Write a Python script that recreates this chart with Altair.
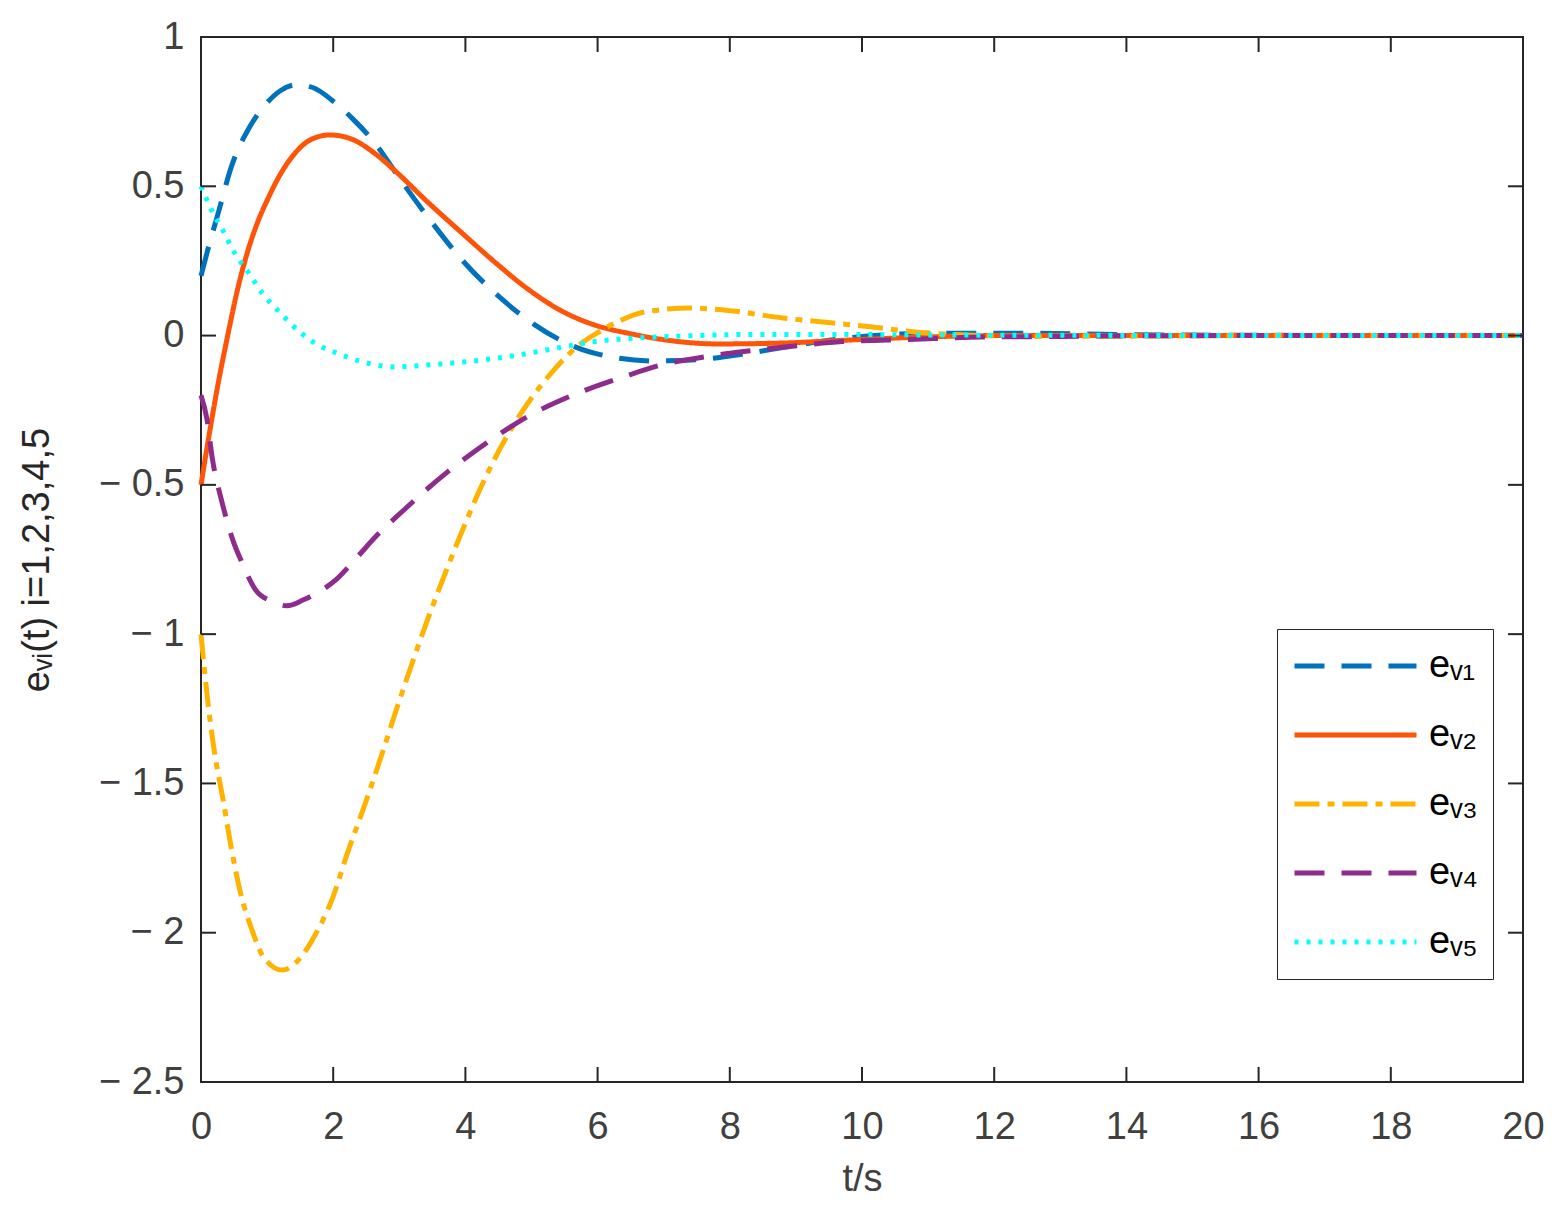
import altair as alt
import pandas as pd

# ---- data ----
names = ["eᵥ₁", "eᵥ₂", "eᵥ₃", "eᵥ₄", "eᵥ₅"]
colors = ["#0072BD", "#FF5308", "#FFB300", "#8E2C8E", "#00FFFF"]
dashes = [[30, 17], [1, 0], [25, 8, 7, 8], [30, 17], [4, 8]]

t1 = [0, 0.1, 0.26, 0.46, 0.74, 1.0, 1.2, 1.45, 1.7, 2.0, 2.3, 2.63, 3.04, 3.5, 3.95, 4.48,
      5.05, 5.66, 6.3, 6.84, 7.55, 8.26, 8.8, 9.7, 10.3, 11.2, 12.4, 14, 16, 18, 20]
v1 = [0.2, 0.285, 0.41, 0.566, 0.70, 0.78, 0.82, 0.84, 0.83, 0.785, 0.725, 0.645, 0.515, 0.377,
      0.253, 0.136, 0.036, -0.038, -0.075, -0.085, -0.08, -0.06, -0.04, -0.01, 0.002, 0.008, 0.008,
      0.003, 0.001, 0, 0]

t2 = [0, 0.11, 0.26, 0.4, 0.54, 0.69, 0.84, 1.02, 1.2, 1.4, 1.65, 1.95, 2.28, 2.63, 2.93, 3.43,
      3.95, 4.45, 4.95, 5.46, 5.96, 6.46, 7.22, 7.8, 8.8, 9.8, 10.8, 12, 14, 16, 18, 20]
v2 = [-0.5, -0.35, -0.16, -0.004, 0.142, 0.27, 0.37, 0.462, 0.54, 0.605, 0.655, 0.672, 0.658,
      0.61, 0.553, 0.447, 0.343, 0.245, 0.155, 0.082, 0.035, 0.008, -0.02, -0.028, -0.025, -0.015,
      -0.006, 0, 0, 0, 0, 0]

t3 = [0, 0.1, 0.2, 0.33, 0.47, 0.59, 0.77, 0.94, 1.23, 1.5, 1.72, 1.98, 2.22, 2.48, 2.74, 2.93,
      3.19, 3.43, 3.74, 3.95, 4.19, 4.45, 4.7, 4.95, 5.36, 5.7, 6.04, 6.34, 6.69, 7.4, 8.05, 8.8,
      9.56, 10.3, 10.8, 11.6, 12.5, 14, 16, 18, 20]
v3 = [-1.0, -1.22, -1.39, -1.55, -1.73, -1.86, -1.99, -2.08, -2.125, -2.085, -2.01, -1.89, -1.73,
      -1.57, -1.40, -1.27, -1.10, -0.95, -0.77, -0.655, -0.53, -0.41, -0.31, -0.225, -0.11, -0.035,
      0.015, 0.05, 0.078, 0.092, 0.082, 0.059, 0.042, 0.025, 0.012, 0.002, -0.003, -0.002, 0, 0, 0]

t4 = [0, 0.09, 0.17, 0.32, 0.49, 0.62, 0.82, 1.07, 1.3, 1.55, 1.77, 2.03, 2.33, 2.68, 3.04, 3.39,
      3.74, 4.19, 4.55, 4.95, 5.46, 5.85, 6.37, 6.94, 7.66, 8.35, 9.06, 9.7, 10.4, 11.1, 11.8, 13,
      14, 16, 18, 20]
v4 = [-0.2, -0.28, -0.41, -0.56, -0.69, -0.76, -0.85, -0.89, -0.905, -0.885, -0.86, -0.82, -0.75,
      -0.665, -0.59, -0.52, -0.455, -0.38, -0.325, -0.27, -0.215, -0.18, -0.14, -0.1, -0.07, -0.05,
      -0.033, -0.02, -0.015, -0.01, -0.005, -0.003, -0.001, 0, 0, 0]

t5 = [0, 0.16, 0.34, 0.51, 0.72, 0.93, 1.18, 1.45, 1.72, 2.07, 2.44, 2.93, 3.34, 3.74, 4.25, 4.8,
      5.36, 5.96, 6.61, 7.37, 8.3, 9.5, 11, 13, 16, 20]
v5 = [0.5, 0.42, 0.348, 0.276, 0.21, 0.141, 0.08, 0.021, -0.025, -0.06, -0.088, -0.105, -0.1,
      -0.093, -0.082, -0.065, -0.043, -0.02, -0.008, -0.001, 0.004, 0.004, 0.002, 0.001, 0, 0]

x_ticks = [0, 2, 4, 6, 8, 10, 12, 14, 16, 18, 20]
y_ticks = [-2.5, -2, -1.5, -1, -0.5, 0, 0.5, 1]

# ---- build tables ----
rows = []
for k, (ts, vs) in enumerate([(t1, v1), (t2, v2), (t3, v3), (t4, v4), (t5, v5)]):
    for i, (t, v) in enumerate(zip(ts, vs)):
        rows.append({"t": t, "v": v, "s": names[k], "k": k, "i": i})
df = pd.DataFrame(rows)
xt = pd.DataFrame({"t": x_ticks})
yt = pd.DataFrame({"v": y_ticks})

W, H = 1322, 1045
FONT = "Liberation Sans"
TICK = 15
AX = "#262626"

xscale = alt.Scale(domain=[0, 20], nice=False, zero=False)
yscale = alt.Scale(domain=[-2.5, 1], nice=False, zero=False)

leg = alt.Legend(
    title=None, orient="none", legendX=1076, legendY=592,
    symbolType="stroke", symbolSize=14884, symbolStrokeWidth=5,
    labelFontSize=38, labelFont=FONT, labelColor="#000000", labelOffset=10,
    strokeColor=AX, padding=15, fillColor="white",
    clipHeight=44, rowPadding=25,
)

lines = alt.Chart(df).mark_line(strokeWidth=5, interpolate="monotone").encode(
    x=alt.X("t:Q", scale=xscale, axis=alt.Axis(
        values=x_ticks, title="t/s", domain=False, ticks=False, grid=False,
        labelExpr="format(datum.value, '~g')", labelFlush=False,
        labelFontSize=38, labelFont=FONT, labelColor="#404040", labelPadding=26,
        titleFontSize=38, titleFont=FONT, titleFontWeight="normal", titleColor="#404040",
        titlePadding=14)),
    y=alt.Y("v:Q", scale=yscale, axis=alt.Axis(
        values=y_ticks, title="eᵥᵢ(t) i=1,2,3,4,5", domain=False, ticks=False, grid=False,
        labelExpr="datum.value < 0 ? '− ' + format(abs(datum.value), '~g') : format(datum.value, '~g')",
        labelFlush=False,
        labelFontSize=38, labelFont=FONT, labelColor="#404040", labelPadding=17,
        titleFontSize=38, titleFont=FONT, titleFontWeight="normal", titleColor="#262626",
        titlePadding=42)),
    color=alt.Color("s:N", scale=alt.Scale(domain=names, range=colors), legend=leg),
    strokeDash=alt.StrokeDash("s:N", scale=alt.Scale(domain=names, range=dashes), legend=leg),
    detail="k:N",
    order="i:Q",
)

tb = alt.Chart(xt).mark_rule(color=AX, strokeWidth=2).encode(
    x="t:Q", y=alt.value(H), y2=alt.value(H - TICK))
tt = alt.Chart(xt).mark_rule(color=AX, strokeWidth=2).encode(
    x="t:Q", y=alt.value(0), y2=alt.value(TICK))
tl = alt.Chart(yt).mark_rule(color=AX, strokeWidth=2).encode(
    y="v:Q", x=alt.value(0), x2=alt.value(TICK))
tr = alt.Chart(yt).mark_rule(color=AX, strokeWidth=2).encode(
    y="v:Q", x=alt.value(W), x2=alt.value(W - TICK))

chart = alt.layer(lines, tb, tt, tl, tr).properties(
    width=W, height=H,
    autosize=alt.AutoSizeParams(type="none"),
    padding={"left": 193, "top": 29, "right": 32, "bottom": 127},
    background="white",
).configure_view(stroke=AX, strokeWidth=2)

chart.save("out.html", embed_options={"renderer": "svg", "actions": False})
